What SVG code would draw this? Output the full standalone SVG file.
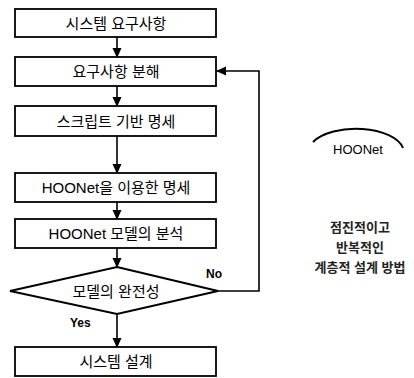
<svg xmlns="http://www.w3.org/2000/svg" width="414" height="378" viewBox="0 0 414 378">
<style>
.box{fill:#fff;stroke:#000;stroke-width:1.8}
.t{font-family:"Liberation Sans","Noto Sans CJK KR",sans-serif;font-size:15px;fill:#000;text-anchor:middle;dominant-baseline:central}
.lbl{font-family:"Liberation Sans","Noto Sans CJK KR",sans-serif;font-size:12px;font-weight:bold;fill:#000}
.side{font-family:"Liberation Sans","Noto Sans CJK KR",sans-serif;font-size:13px;font-weight:bold;fill:#222;text-anchor:middle;dominant-baseline:central}
.edge{fill:none;stroke:#000;stroke-width:1.6}
</style>
<defs>
<marker id="ah" markerWidth="10" markerHeight="10" refX="9" refY="5" orient="auto" markerUnits="userSpaceOnUse">
<path d="M0,0.5 L10,5 L0,9.5 Z" fill="#000"/>
</marker>
</defs>
<g id="connectors">
<line class="edge" x1="117" y1="37" x2="117" y2="57" marker-end="url(#ah)"/>
<line class="edge" x1="117" y1="86" x2="117" y2="106" marker-end="url(#ah)"/>
<line class="edge" x1="117" y1="136" x2="117" y2="173" marker-end="url(#ah)"/>
<line class="edge" x1="117" y1="202" x2="117" y2="219" marker-end="url(#ah)"/>
<line class="edge" x1="117" y1="248" x2="117" y2="267" marker-end="url(#ah)"/>
<line class="edge" x1="117" y1="314" x2="117" y2="347" marker-end="url(#ah)"/>
<polyline class="edge" points="218,291 259,291 259,71 217,71" marker-end="url(#ah)"/>
<text class="lbl" x="206" y="278">No</text>
<text class="lbl" x="70" y="327">Yes</text>
</g>
<g id="n1"><rect class="box" x="15" y="9" width="201" height="28"/><text class="t" x="116" y="23">시스템 요구사항</text></g>
<g id="n2"><rect class="box" x="15" y="57" width="201" height="29"/><text class="t" x="116" y="71.5">요구사항 분해</text></g>
<g id="n3"><rect class="box" x="15" y="106" width="201" height="30"/><text class="t" x="116" y="121">스크립트 기반 명세</text></g>
<g id="n4"><rect class="box" x="15" y="173" width="201" height="29"/><text class="t" x="116" y="187.5">HOONet을 이용한 명세</text></g>
<g id="n5"><rect class="box" x="15" y="219" width="201" height="29"/><text class="t" x="116" y="233.5">HOONet 모델의 분석</text></g>
<g id="n6"><polygon class="box" points="117,267 218,291 117,314 10,291"/><text class="t" x="116" y="291">모델의 완전성</text></g>
<g id="n7"><rect class="box" x="15" y="347" width="201" height="29"/><text class="t" x="116" y="361.5">시스템 설계</text></g>
<g id="hoonet">
<path d="M313,142 A48,24 0 0 1 403,148" fill="none" stroke="#000" stroke-width="2"/>
<text x="358" y="149" font-family="Liberation Sans, sans-serif" font-size="13" fill="#000" text-anchor="middle" dominant-baseline="central">HOONet</text>
<text class="side" x="360" y="227">점진적이고</text>
<text class="side" x="360" y="247">반복적인</text>
<text class="side" x="360" y="267">계층적 설계 방법</text>
</g>
</svg>
